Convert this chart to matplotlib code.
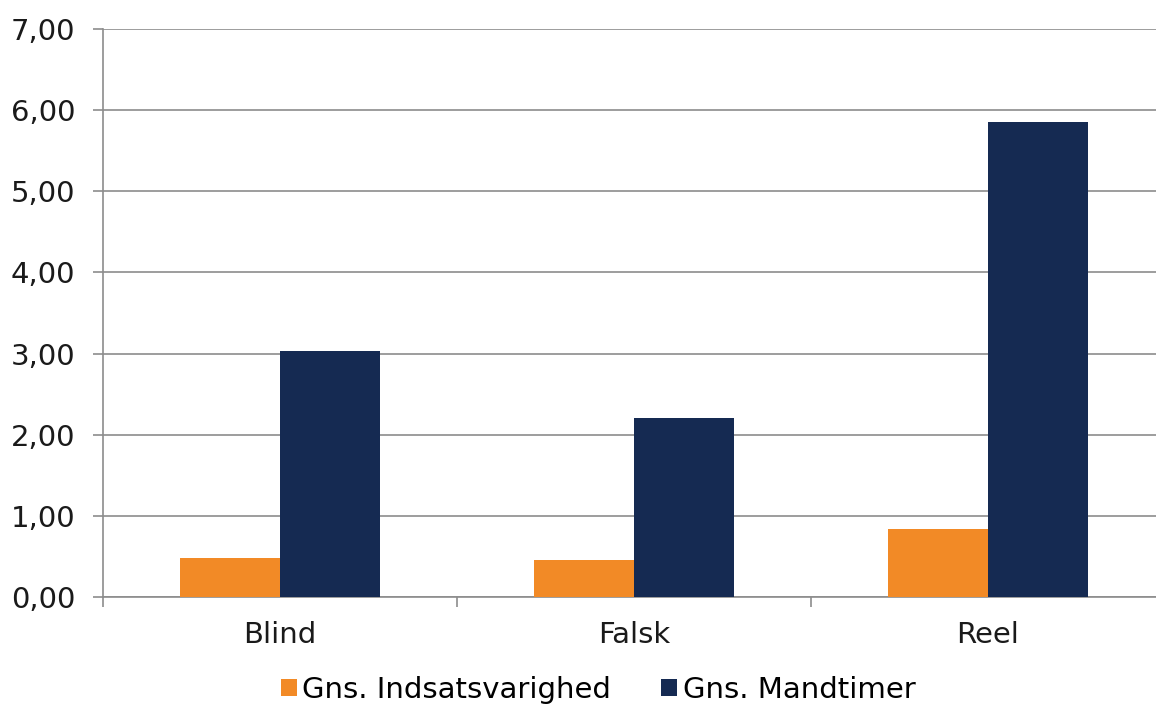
import matplotlib
matplotlib.use("Agg")
import matplotlib.pyplot as plt
import numpy as np
from matplotlib.ticker import FuncFormatter, FixedLocator

categories = ["Blind", "Falsk", "Reel"]
indsats = [0.48, 0.46, 0.84]
mandtimer = [3.03, 2.20, 5.85]
series_names = ["Gns. Indsatsvarighed", "Gns. Mandtimer"]

orange = "#F28A26"
navy = "#152A52"
grid_c = "#8C8C8C"

plt.rcParams['font.family'] = ['DejaVu Sans']
fig = plt.figure(figsize=(11.56, 7.06), dpi=100)
W, H = 1156, 706
ax = fig.add_axes([103 / W, 1 - 597 / H, (1165 - 103) / W, (597 - 29) / H])

x = np.arange(len(categories))
w = 0.283
b1 = ax.bar(x - w/2, indsats, w, color=orange, label=series_names[0], zorder=3)
b2 = ax.bar(x + w/2, mandtimer, w, color=navy, label=series_names[1], zorder=3)

ax.set_xlim(-0.5, 2.5)
ax.set_ylim(0, 7)
ax.set_yticks(np.arange(0, 8, 1))
ax.yaxis.set_major_formatter(FuncFormatter(lambda v, p: f"{v:.2f}".replace(".", ",")))
ax.grid(axis='y', color=grid_c, linewidth=1.2, zorder=0)
ax.set_xticks(x)
ax.set_xticklabels(categories)
ax.xaxis.set_minor_locator(FixedLocator([-0.5, 0.5, 1.5, 2.5]))
ax.tick_params(axis='x', which='major', length=0, pad=17.5, labelsize=21, colors='#1a1a1a')
ax.tick_params(axis='x', which='minor', length=7, color=grid_c, width=1.2)
ax.tick_params(axis='y', length=7, color=grid_c, width=1.2, pad=13, labelsize=21, labelcolor='#1a1a1a')

for s in ['top', 'right']:
    ax.spines[s].set_visible(False)
for s in ['left', 'bottom']:
    ax.spines[s].set_color(grid_c)
    ax.spines[s].set_linewidth(1.2)

fig.legend(handles=[b1, b2], labels=series_names, loc='center',
           bbox_to_anchor=(598 / W, 1 - 690 / H), ncol=2, frameon=False, fontsize=21,
           handlelength=0.55, handleheight=0.55, handletextpad=0.2, columnspacing=1.7,
           borderpad=0)

fig.savefig("out.png", dpi=100)
